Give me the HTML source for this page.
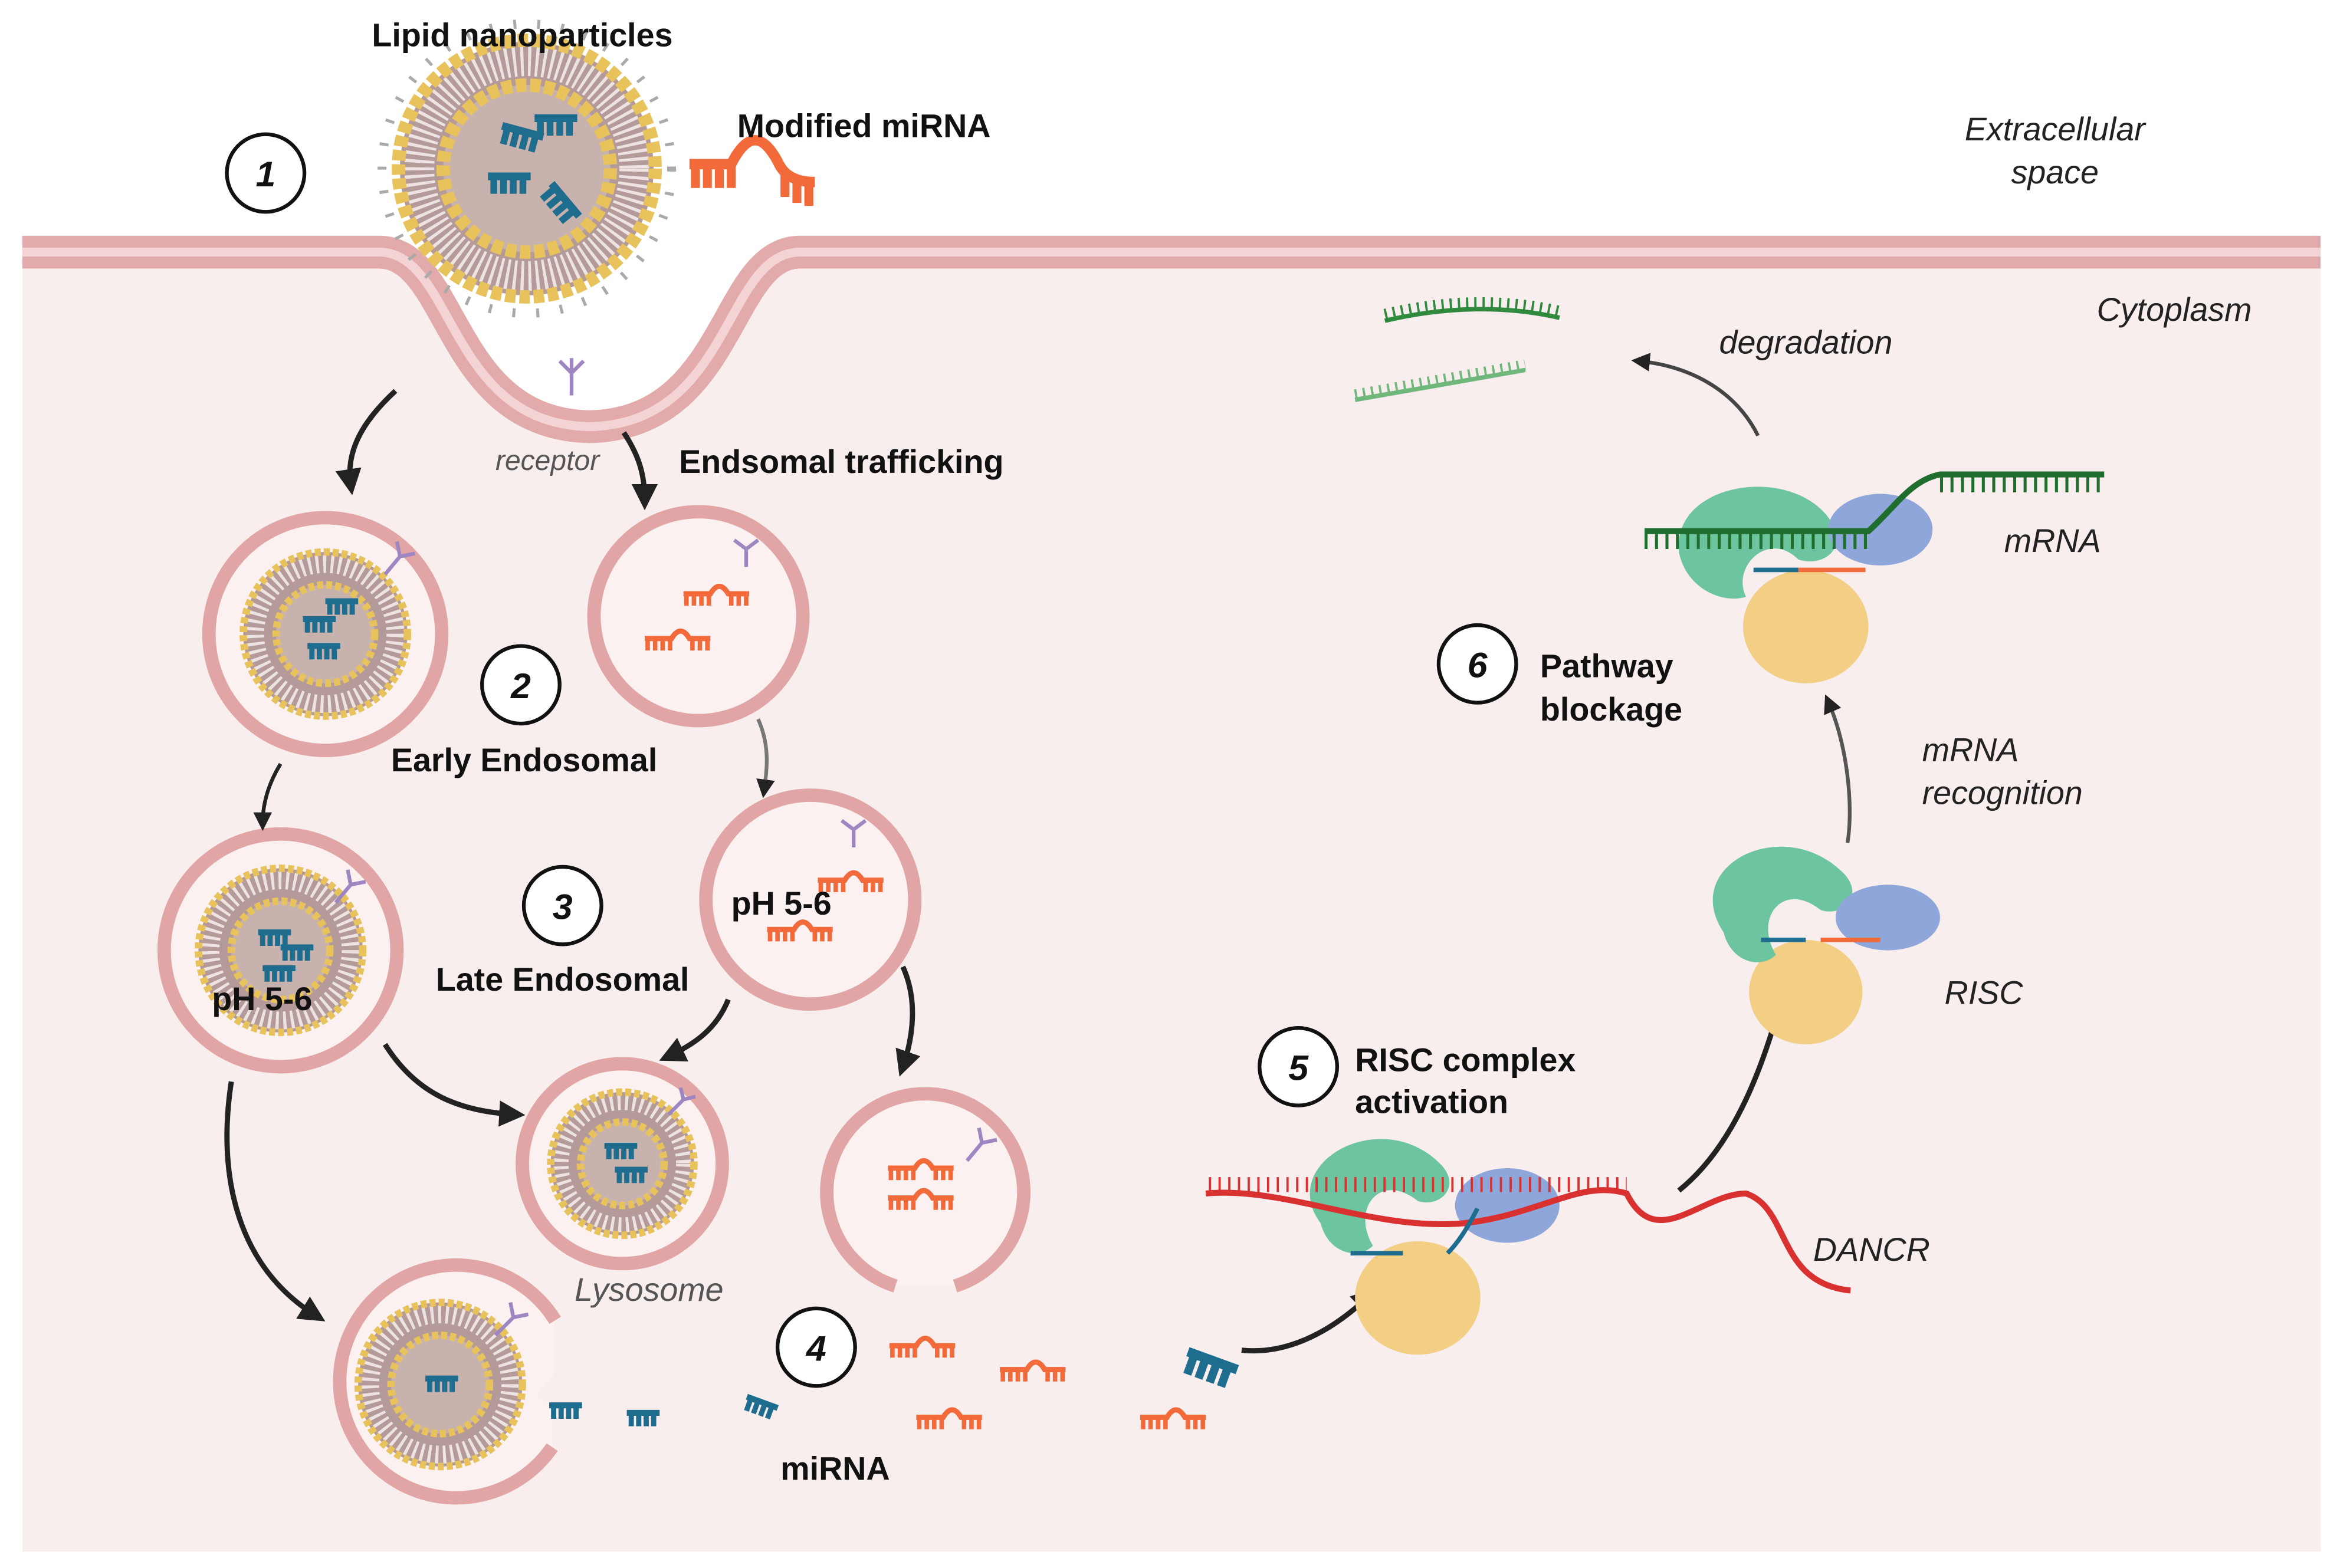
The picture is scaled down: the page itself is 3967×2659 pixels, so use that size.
<!DOCTYPE html>
<html><head><meta charset="utf-8"><style>
html,body{margin:0;padding:0;background:#fff}
svg{display:block}
text{font-family:"Liberation Sans",sans-serif}
.b{font-weight:bold;font-size:22px;fill:#111}
.i{font-style:italic;font-size:22px;fill:#222}
.n{font-style:italic;font-weight:bold;font-size:24px;fill:#111;text-anchor:middle}
</style></head><body>
<svg width="3967" height="2659" viewBox="0 0 1568 1051" preserveAspectRatio="none" xmlns="http://www.w3.org/2000/svg">
<defs>
<marker id="ah" markerWidth="5" markerHeight="5" refX="3" refY="2.5" orient="auto" markerUnits="strokeWidth"><path d="M0,0 L5,2.5 L0,5 z" fill="#222"/></marker>
<g id="mo"><path d="M0,0 h18 q6,-10 12,0 h14" fill="none" stroke="#f26a3a" stroke-width="3.5"/><path d="M2,0v8M7,0v8M12,0v8M17,0v8M32,0v8M37,0v8M42,0v8" stroke="#f26a3a" stroke-width="3"/></g>
<g id="mb"><path d="M0,0 h22" stroke="#1e6d8f" stroke-width="4"/><path d="M3,0v9M8,0v9M13,0v9M18,0v9" stroke="#1e6d8f" stroke-width="3.5"/></g>
</defs>
<!-- cytoplasm -->
<path d="M15,170 L255,170 C305,172 300,292 395,294 C490,292 485,172 535,170 L1555,170 L1555,1040 L15,1040 Z" fill="#f9eeee"/>
<!-- membrane -->
<path d="M15,169 L255,169 C305,171 300,284 395,286 C490,284 485,171 535,169 L1555,169" fill="none" stroke="#e2aaaa" stroke-width="22"/>
<path d="M15,169 L255,169 C305,171 300,284 395,286 C490,284 485,171 535,169 L1555,169" fill="none" stroke="#f3d3d3" stroke-width="6"/>

<!-- LNP top -->
<g transform="translate(353,113)">
<circle r="97" fill="none" stroke="#aaa" stroke-width="6" stroke-dasharray="2 14"/>
<circle r="85" fill="#b59a9a"/>
<circle r="72" fill="none" stroke="#ede3e3" stroke-width="20" stroke-dasharray="2 3"/>
<circle r="86" fill="none" stroke="#e8c25a" stroke-width="9" stroke-dasharray="7 2.5"/>
<circle r="56" fill="#c8b2ae"/>
<circle r="56" fill="none" stroke="#e8c25a" stroke-width="9" stroke-dasharray="7 2.5"/>
<g transform="scale(1.3)"><use href="#mb" x="-18" y="-18" transform="rotate(15)"/><use href="#mb" x="4" y="-26"/><use href="#mb" x="-20" y="4"/><use href="#mb" x="8" y="12" transform="rotate(50 15 15)"/></g>
</g>
<path d="M383,240 v25 M383,250 l-8,-8 M383,250 l8,-8" stroke="#9d86c2" stroke-width="2.5" fill="none"/>
<g transform="translate(462,110) scale(2)"><path d="M0,0 h14 q8,-16 16,0 q3,6 12,6" fill="none" stroke="#f26a3a" stroke-width="3.5"/><path d="M2,0v8M6,0v8M10,0v8M14,0v8M32,3v8M36,5v8M40,6v8" stroke="#f26a3a" stroke-width="3"/></g>

<!-- vesicles -->
<g fill="#fbf1f1" stroke="#e2a5a5" stroke-width="9">
<circle cx="218" cy="425" r="78"/><circle cx="468" cy="413" r="70"/>
<circle cx="188" cy="637" r="78"/><circle cx="543" cy="603" r="70"/>
<circle cx="417" cy="780" r="67"/>
<path d="M600,862 A66,66 0 1 1 640,862"/>
<path d="M370,970 A78,78 0 1 1 372,885"/>
</g>
<g>
<g transform="translate(218,425)"><circle r="55" fill="#b59a9a"/><circle r="47" fill="none" stroke="#ede3e3" stroke-width="12" stroke-dasharray="2 3"/><circle r="55" fill="none" stroke="#e8c25a" stroke-width="5" stroke-dasharray="4 2"/><circle r="33" fill="#c8b2ae" stroke="#e8c25a" stroke-width="5" stroke-dasharray="4 2"/><use href="#mb" x="-15" y="-10"/><use href="#mb" x="0" y="-22"/><use href="#mb" x="-12" y="8"/></g>
<g transform="translate(188,637)"><circle r="55" fill="#b59a9a"/><circle r="47" fill="none" stroke="#ede3e3" stroke-width="12" stroke-dasharray="2 3"/><circle r="55" fill="none" stroke="#e8c25a" stroke-width="5" stroke-dasharray="4 2"/><circle r="33" fill="#c8b2ae" stroke="#e8c25a" stroke-width="5" stroke-dasharray="4 2"/><use href="#mb" x="-15" y="-12"/><use href="#mb" x="0" y="-2"/><use href="#mb" x="-12" y="12"/></g>
<g transform="translate(417,780)"><circle r="48" fill="#b59a9a"/><circle r="41" fill="none" stroke="#ede3e3" stroke-width="10" stroke-dasharray="2 3"/><circle r="48" fill="none" stroke="#e8c25a" stroke-width="5" stroke-dasharray="4 2"/><circle r="28" fill="#c8b2ae" stroke="#e8c25a" stroke-width="5" stroke-dasharray="4 2"/><use href="#mb" x="-12" y="-12"/><use href="#mb" x="-5" y="4"/></g>
<g transform="translate(295,928)"><circle r="55" fill="#b59a9a"/><circle r="47" fill="none" stroke="#ede3e3" stroke-width="12" stroke-dasharray="2 3"/><circle r="55" fill="none" stroke="#e8c25a" stroke-width="5" stroke-dasharray="4 2"/><circle r="33" fill="#c8b2ae" stroke="#e8c25a" stroke-width="5" stroke-dasharray="4 2"/><use href="#mb" x="-10" y="-4"/></g>
</g>
<path d="M360,935 L385,905 L385,955 Z" fill="#f9eeee"/>
<g stroke="#9d86c2" stroke-width="2.5" fill="none">
<path d="M258,385 l10,-12 m0,0 l-2,-10 m2,10 l10,-2"/><path d="M500,380 v-12 l-8,-6 m8,6 l8,-6"/>
<path d="M225,605 l10,-12 l-2,-10 m2,10 l10,-2"/><path d="M572,568 v-12 l-8,-6 m8,6 l8,-6"/>
<path d="M448,747 l10,-10 l-2,-8 m2,8 l8,-2"/><path d="M648,778 l10,-12 m0,0 l-2,-10 m2,10 l10,-2"/>
<path d="M332,895 l12,-12 l-2,-10 m2,10 l10,-2"/>
</g>
<use href="#mo" x="458" y="398"/><use href="#mo" x="432" y="428"/>
<use href="#mo" x="548" y="590"/><use href="#mo" x="514" y="623"/>
<use href="#mo" x="595" y="783"/><use href="#mo" x="595" y="803"/>
<use href="#mo" x="596" y="902"/><use href="#mo" x="670" y="918"/><use href="#mo" x="614" y="950"/><use href="#mo" x="764" y="950"/>
<use href="#mb" x="368" y="942"/><use href="#mb" x="420" y="947"/><use href="#mb" x="498" y="940" transform="rotate(20 510 945)"/>
<g transform="translate(796,906) rotate(20) scale(1.6)"><use href="#mb"/></g>

<g fill="none" stroke="#222" stroke-width="3.5" marker-end="url(#ah)">
<path d="M265,262 C240,285 232,305 235,325"/>
<path d="M418,290 C428,305 432,318 432,335"/>
<path d="M188,512 C180,525 176,538 176,552" stroke-width="2.5"/>
<path d="M508,482 C516,500 514,515 512,530" stroke="#777" stroke-width="2.5"/>
<path d="M258,700 C280,735 310,745 345,747"/>
<path d="M488,670 C480,690 465,700 448,708"/>
<path d="M605,648 C615,670 612,695 605,715"/>
<path d="M155,725 C145,790 160,850 212,882"/>
<path d="M832,905 C860,908 890,895 918,868"/>
<path d="M1125,798 C1160,770 1180,720 1193,672"/>
<path d="M1238,565 C1242,540 1238,500 1225,470" stroke="#555" stroke-width="2.5"/>
<path d="M1178,292 C1162,260 1130,245 1098,242" stroke="#444" stroke-width="2.5"/>
</g>

<g transform="translate(945,830)">
<ellipse cx="5" cy="40" rx="42" ry="38" fill="#f2cf85"/>
<path d="M-60,-10 C-90,-50 -20,-90 20,-50 C35,-35 20,-20 5,-25 C-20,-45 -40,-20 -25,5 C-35,15 -55,10 -60,-10Z" fill="#6cc59e"/>
<ellipse cx="65" cy="-22" rx="35" ry="25" fill="#8ea6d9"/>
</g>
<path d="M808,800 C860,795 920,825 980,820 C1030,815 1060,790 1090,800 C1110,840 1140,800 1170,800 C1200,810 1190,860 1240,865" fill="none" stroke="#d93030" stroke-width="4"/>
<path d="M810,800 h280" fill="none" stroke="#d93030" stroke-width="10" stroke-dasharray="1.5 5" transform="translate(0,-6)"/>
<path d="M905,840 h35 M970,840 q10,-10 20,-30" fill="none" stroke="#1e6d8f" stroke-width="3"/>
<g transform="translate(1210,630)">
<ellipse cx="0" cy="35" rx="38" ry="35" fill="#f2cf85"/>
<path d="M-55,-5 C-85,-50 -15,-85 25,-45 C40,-30 25,-15 10,-20 C-15,-40 -35,-15 -20,10 C-30,20 -50,15 -55,-5Z" fill="#6cc59e"/>
<ellipse cx="55" cy="-15" rx="35" ry="22" fill="#8ea6d9"/>
<path d="M-30,0 h30" stroke="#1e6d8f" stroke-width="3"/><path d="M10,0 h40" stroke="#f26a3a" stroke-width="3"/>
</g>
<g transform="translate(1200,390)">
<ellipse cx="10" cy="30" rx="42" ry="38" fill="#f2cf85"/>
<path d="M-75,-20 C-80,-70 10,-80 30,-35 C35,-20 20,-10 5,-15 C-15,-35 -40,-10 -30,10 C-45,15 -70,5 -75,-20Z" fill="#6cc59e"/>
<ellipse cx="60" cy="-35" rx="35" ry="24" fill="#8ea6d9"/>
<path d="M-25,-8 h30" stroke="#1e6d8f" stroke-width="3"/><path d="M5,-8 h45" stroke="#f26a3a" stroke-width="3"/>
</g>
<path d="M1102,356 h150 C1270,340 1280,322 1300,318 h110" fill="none" stroke="#1f6e2e" stroke-width="4"/>
<path d="M1102,362 h150 M1300,324 h110" fill="none" stroke="#1f6e2e" stroke-width="12" stroke-dasharray="2 5"/>
<path d="M928,215 C970,205 1010,205 1045,213" fill="none" stroke="#2f8a3e" stroke-width="3"/>
<path d="M928,215 C970,205 1010,205 1045,213" fill="none" stroke="#2f8a3e" stroke-width="8" stroke-dasharray="1.5 4" transform="translate(0,-4)"/>
<path d="M908,268 L1022,248" fill="none" stroke="#6fb77a" stroke-width="3"/>
<path d="M908,268 L1022,248" fill="none" stroke="#6fb77a" stroke-width="8" stroke-dasharray="1.5 4" transform="translate(0,-3)"/>

<g fill="#fff" stroke="#111" stroke-width="2.5">
<circle cx="178" cy="116" r="26"/><circle cx="349" cy="459" r="26"/><circle cx="377" cy="607" r="26"/>
<circle cx="547" cy="903" r="26"/><circle cx="870" cy="715" r="26"/><circle cx="990" cy="445" r="26"/>
</g>
<text class="n" x="178" y="125">1</text><text class="n" x="349" y="468">2</text><text class="n" x="377" y="616">3</text>
<text class="n" x="547" y="912">4</text><text class="n" x="870" y="724">5</text><text class="n" x="990" y="454">6</text>

<text class="b" x="350" y="31" text-anchor="middle">Lipid nanoparticles</text>
<text class="b" x="494" y="92">Modified miRNA</text>
<text class="i" x="1377" y="94" text-anchor="middle">Extracellular</text>
<text class="i" x="1377" y="123" text-anchor="middle">space</text>
<text class="i" x="1405" y="215">Cytoplasm</text>
<text class="i" x="1152" y="237">degradation</text>
<text class="i" x="332" y="315" style="font-size:19px;fill:#555">receptor</text>
<text class="b" x="455" y="317">Endsomal trafficking</text>
<text class="i" x="1343" y="370">mRNA</text>
<text class="b" x="1032" y="454">Pathway</text>
<text class="b" x="1032" y="483">blockage</text>
<text class="i" x="1288" y="510">mRNA</text>
<text class="i" x="1288" y="539">recognition</text>
<text class="b" x="262" y="517">Early Endosomal</text>
<text class="b" x="490" y="613">pH 5-6</text>
<text class="b" x="142" y="677">pH 5-6</text>
<text class="b" x="292" y="664">Late Endosomal</text>
<text class="i" x="1303" y="673">RISC</text>
<text class="b" x="908" y="718">RISC complex</text>
<text class="b" x="908" y="746">activation</text>
<text class="i" x="1215" y="845">DANCR</text>
<text class="i" x="385" y="872" style="fill:#555">Lysosome</text>
<text class="b" x="523" y="992">miRNA</text>
</svg>
</body></html>
